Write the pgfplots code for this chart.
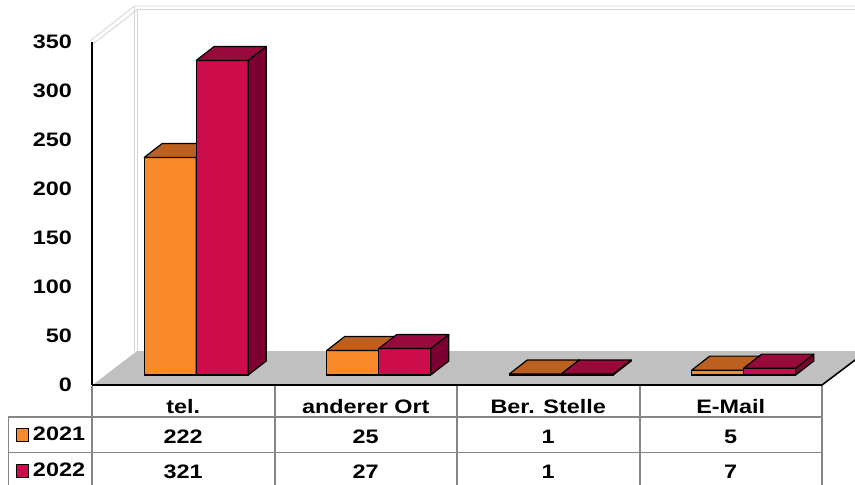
\documentclass[border=0pt]{standalone}
\usepackage{pgfplots}
\pgfplotsset{compat=1.18}
\usepackage{pgfplotstable}
\usepackage{fontspec}
\setmainfont{Liberation Sans}[FakeStretch=1.2, BoldFont={Liberation Sans Bold}, BoldFeatures={FakeStretch=1.2}]
\definecolor{c21}{HTML}{F98A2A}
\definecolor{c21t}{HTML}{BC6020}
\definecolor{c21s}{HTML}{8C4614}
\definecolor{c22}{HTML}{CC0C4B}
\definecolor{c22t}{HTML}{990A3C}
\definecolor{c22s}{HTML}{7D0032}
\definecolor{floorc}{HTML}{C0C0C0}
\definecolor{wallc}{HTML}{D6D6D6}
\definecolor{gridc}{HTML}{868686}

\pgfplotstableread{
x   y2021 y2022
0.5 222   321
1.5 25    27
2.5 1     1
3.5 5     7
}\data

% 3D top and side faces, drawn at each data point (value read per point)
\pgfdeclareplotmark{face21}{%
  \pgfmathsetmacro\h{\barval*0.98}%
  \pgfsetlinewidth{1.2pt}\pgfsetroundjoin
  \pgfsetstrokecolor{black}%
  \pgfsetfillcolor{c21s}%
  \pgfpathmoveto{\pgfpoint{0pt}{0pt}}%
  \pgfpathlineto{\pgfpoint{18pt}{14pt}}%
  \pgfpathlineto{\pgfpoint{18pt}{14pt-\h pt}}%
  \pgfpathlineto{\pgfpoint{0pt}{-\h pt}}%
  \pgfpathclose
  \pgfusepath{fill,stroke}%
  \pgfsetfillcolor{c21t}%
  \pgfpathmoveto{\pgfpoint{-52pt}{0pt}}%
  \pgfpathlineto{\pgfpoint{0pt}{0pt}}%
  \pgfpathlineto{\pgfpoint{18pt}{14pt}}%
  \pgfpathlineto{\pgfpoint{-34pt}{14pt}}%
  \pgfpathclose
  \pgfusepath{fill,stroke}%
}
\pgfdeclareplotmark{face22}{%
  \pgfmathsetmacro\h{\barval*0.98}%
  \pgfsetlinewidth{1.2pt}\pgfsetroundjoin
  \pgfsetstrokecolor{black}%
  % front face again, so that it lies over the faces of the 2021 bar
  \pgfsetfillcolor{c22}%
  \pgfpathrectangle{\pgfpoint{0pt}{-\h pt}}{\pgfpoint{52pt}{\h pt}}%
  \pgfusepath{fill,stroke}%
  \pgfsetfillcolor{c22s}%
  \pgfpathmoveto{\pgfpoint{52pt}{0pt}}%
  \pgfpathlineto{\pgfpoint{70pt}{14pt}}%
  \pgfpathlineto{\pgfpoint{70pt}{14pt-\h pt}}%
  \pgfpathlineto{\pgfpoint{52pt}{-\h pt}}%
  \pgfpathclose
  \pgfusepath{fill,stroke}%
  \pgfsetfillcolor{c22t}%
  \pgfpathmoveto{\pgfpoint{0pt}{0pt}}%
  \pgfpathlineto{\pgfpoint{52pt}{0pt}}%
  \pgfpathlineto{\pgfpoint{70pt}{14pt}}%
  \pgfpathlineto{\pgfpoint{18pt}{14pt}}%
  \pgfpathclose
  \pgfusepath{fill,stroke}%
}

\newcommand\keybox[1]{{\fboxsep=0pt\fboxrule=1pt\fcolorbox{black}{#1}{\rule{0pt}{12pt}\rule{11pt}{0pt}}}\hspace{4pt}}

\begin{document}
\begin{tikzpicture}
\useasboundingbox (0pt,0pt) rectangle (855pt,-485pt);
% background: floor and walls (pixel coordinates, y downwards)
\begin{scope}[x=1pt,y=-1pt]
\fill[floorc] (92,385) -- (822,385) -- (867,351) -- (137,351) -- cycle;
\draw[wallc, line width=0.9pt] (90.5,40.5) -- (134.5,6) -- (870,6);
\draw[wallc, line width=0.9pt] (134.5,6) -- (134.5,352);
\draw[wallc, line width=0.9pt] (93,44) -- (137.5,9.5) -- (870,9.5);
\draw[wallc, line width=0.9pt] (137.5,9.5) -- (137.5,351);
\draw[white, line width=0.9pt] (93,384) -- (137,350);
\draw[black, line width=1.3pt] (92,42) -- (92,385);
\end{scope}

\begin{axis}[
  at={(105pt,-375pt)}, anchor=origin,
  x=182.5pt, y=0.98pt,
  xmin=0, xmax=4, ymin=0, ymax=350,
  clip=false,
  axis lines*=left, axis line style={draw=none},
  major tick length=0pt,
  xtick={0.5,1.5,2.5,3.5},
  xticklabels={{tel.\\222\\[5.3pt]321},{anderer Ort\\25\\[5.3pt]27},{Ber. Stelle\\1\\[5.3pt]1},{E-Mail\\5\\[5.3pt]7}},
  ytick={0,50,...,350},
  /pgf/number format/assume math mode=true,
  tick label style={font=\bfseries\fontsize{19.5}{30}\selectfont, inner sep=0pt},
  xticklabel style={anchor=north, align=center, xshift=-13pt, yshift=-23.7pt},
  yticklabel style={anchor=east, xshift=-33pt, yshift=-10pt},
  legend style={at={(axis cs:-0.4877,-53)}, anchor=north west, draw=none, fill=none,
    inner sep=0pt, outer sep=0pt, row sep=21.3pt,
    font=\bfseries\fontsize{19.5}{23}\selectfont,
    nodes={inner sep=0pt},
    /tikz/every even column/.append style={column sep=0pt}},
  legend cell align=left,
  legend image code/.code={},
]
\addplot[ybar, bar width=52pt, bar shift=-26pt, fill=c21, draw=black, line width=1.2pt,
  legend image code/.code={}]
  table[x=x, y=y2021]{\data};
\addlegendentry{\keybox{c21}2021}
\addplot[only marks, mark=face21, forget plot,
  visualization depends on={rawy\as\barval}]
  table[x=x, y=y2021]{\data};
\addplot[ybar, bar width=52pt, bar shift=26pt, fill=c22, draw=black, line width=1.2pt,
  legend image code/.code={}]
  table[x=x, y=y2022]{\data};
\addlegendentry{\keybox{c22}2022}
\addplot[only marks, mark=face22, forget plot,
  visualization depends on={rawy\as\barval}]
  table[x=x, y=y2022]{\data};
\end{axis}

% data table grid
\begin{scope}[x=1pt,y=-1pt]
\draw[gridc, line width=1.8pt] (92,386) -- (92,490);
\foreach \xx in {275,457,640,822} \draw[gridc, line width=1.8pt] (\xx,386) -- (\xx,490);
\draw[gridc, line width=1.8pt] (8.5,417) -- (8.5,490);
\draw[gridc, line width=1.8pt] (7.6,417) -- (822.9,417);
\draw[gridc, line width=1.8pt] (7.6,452.5) -- (822.9,452.5);
\draw[black, line width=1.6pt] (92,385) -- (822,385) -- (867,351);
\end{scope}
\end{tikzpicture}
\end{document}
